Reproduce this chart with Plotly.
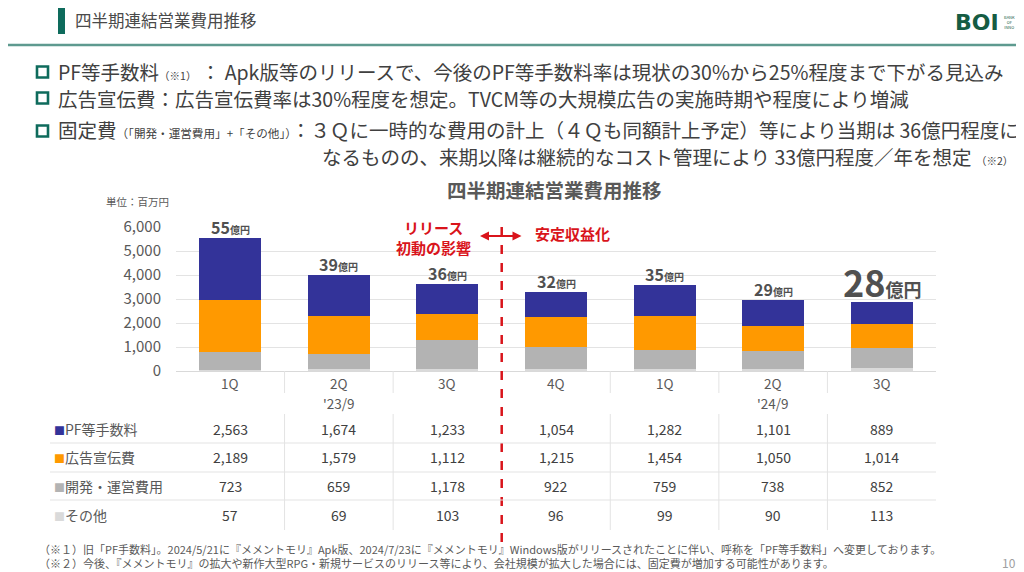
import plotly.graph_objects as go

# ---------------- data ----------------
quarters = ["1Q", "2Q", "3Q", "4Q", "1Q", "2Q", "3Q"]
fiscal_groups = [("'23/9", 1), ("'24/9", 5)]
series_names = ["PF等手数料", "広告宣伝費", "開発・運営費用", "その他"]
pf_fee = [2563, 1674, 1233, 1054, 1282, 1101, 889]
ad_cost = [2189, 1579, 1112, 1215, 1454, 1050, 1014]
dev_ops = [723, 659, 1178, 922, 759, 738, 852]
other = [57, 69, 103, 96, 99, 90, 113]
y_ticks = [0, 1000, 2000, 3000, 4000, 5000, 6000]

colors = {"PF等手数料": "#333399", "広告宣伝費": "#FF9900",
          "開発・運営費用": "#B3B3B3", "その他": "#DADADA"}
values = {"PF等手数料": pf_fee, "広告宣伝費": ad_cost,
          "開発・運営費用": dev_ops, "その他": other}

FONT = "Noto Sans CJK JP"
W, H = 1024, 572
OX, OY = 8, 8   # page body margin offset


def px(x):
    return (x - OX) / W


def py(y):
    return 1 - (y - OY) / H


xs = list(range(len(quarters)))
fig = go.Figure()
for name in ["その他", "開発・運営費用", "広告宣伝費", "PF等手数料"]:
    fig.add_trace(go.Bar(x=xs, y=values[name], name=name, marker_color=colors[name],
                         marker_line_width=0, width=0.57, showlegend=False))

totals = [a + b + c + d for a, b, c, d in zip(pf_fee, ad_cost, dev_ops, other)]

ann = []
shapes = []


def A(**kw):
    kw.setdefault("showarrow", False)
    kw.setdefault("yanchor", "middle")
    kw.setdefault("xanchor", "center")
    ann.append(kw)


# total labels above bars
for i, t in enumerate(totals):
    oku = int(t // 100)
    if i == len(totals) - 1:
        txt = f"<b><span style='font-size:36px'>{oku}</span><span style='font-size:18px'>億円</span></b>"
        ys = 21
    else:
        txt = f"<b><span style='font-size:16px'>{oku}</span><span style='font-size:10px'>億円</span></b>"
        ys = 11
    A(x=i, y=t, xref="x", yref="y", text=txt, yshift=ys,
      font=dict(family=FONT, color="#505050"))

# header
shapes.append(dict(type="rect", xref="paper", yref="paper", x0=px(58), x1=px(65),
                   y0=py(34), y1=py(8), fillcolor="#0E6B5C", line_width=0))
A(x=px(73), y=py(20), xref="paper", yref="paper", text="四半期連結営業費用推移",
  xanchor="left", font=dict(family=FONT, size=16.5, color="#4A4A4A"))
shapes.append(dict(type="line", xref="paper", yref="paper", x0=px(8), x1=px(1020),
                   y0=py(45), y1=py(45), line=dict(color="#5E9A8F", width=2.5)))
A(x=px(1001), y=py(22), xref="paper", yref="paper", text="<b>BOI</b>", xanchor="right",
  font=dict(family="DejaVu Sans", size=22, color="#155C43"))
A(x=px(1002), y=py(22), xref="paper", yref="paper", text="BANK<br>OF<br>INNO",
  xanchor="left", font=dict(family=FONT, size=4, color="#155C43"))

# bullets
bullet_y = [72, 98, 131]
for by in bullet_y:
    shapes.append(dict(type="rect", xref="paper", yref="paper", x0=px(37), x1=px(48),
                       y0=py(by + 5.5), y1=py(by - 5.5), line=dict(color="#0E6B5C", width=2.6),
                       fillcolor="rgba(0,0,0,0)"))
small = "<span style='font-size:10.5px'>"
small3 = "<span style='font-size:11.6px'>"
lines = [
    (71.5, 56, f"PF等手数料{small}（※1）</span> ： Apk版等のリリースで、今後のPF等手数料率は現状の30%から25%程度まで下がる見込み"),
    (98.5, 56, "広告宣伝費：広告宣伝費率は30%程度を想定。TVCM等の大規模広告の実施時期や程度により増減"),
    (129, 56, f"固定費{small3}（「開発・運営費用」+「その他」）</span>：３Ｑに一時的な費用の計上（４Ｑも同額計上予定）等により当期は 36億円程度に"),
    (156.5, 320, f"なるものの、来期以降は継続的なコスト管理により 33億円程度／年を想定 {small}（※2）</span>"),
]
for ly, lx, t in lines:
    A(x=px(lx), y=py(ly), xref="paper", yref="paper", text=t, xanchor="left",
      font=dict(family=FONT, size=19.5, color="#404040"))

# chart title & unit
A(x=px(554), y=py(189), xref="paper", yref="paper", text="<b>四半期連結営業費用推移</b>",
  font=dict(family=FONT, size=19.5, color="#595959"))
A(x=px(104), y=py(201), xref="paper", yref="paper", text="単位：百万円", xanchor="left",
  font=dict(family=FONT, size=10.5, color="#595959"))

# red divider and annotations
shapes.append(dict(type="line", xref="x", yref="paper", x0=2.5, x1=2.5, y0=py(542), y1=py(220),
                   line=dict(color="#D9141B", width=2.5, dash="dash")))
ann.append(dict(x=2.5 - 0.2, y=py(236), xref="x", yref="paper", ax=43, ay=0,
                axref="pixel", ayref="pixel", text="", showarrow=True, arrowhead=2,
                arrowside="end+start", arrowwidth=1.8, arrowsize=1, arrowcolor="#D9141B"))
A(x=px(433), y=py(237), xref="paper", yref="paper", text="<b>リリース<br>初動の影響</b>",
  font=dict(family=FONT, size=15, color="#D9141B"))
A(x=px(572), y=py(233), xref="paper", yref="paper", text="<b>安定収益化</b>",
  font=dict(family=FONT, size=15, color="#D9141B"))

# table
row_y = [429, 457, 486, 515]
for i, q in enumerate(quarters):
    A(x=i, y=py(383), xref="x", yref="paper", text=q,
      font=dict(family=FONT, size=13.5, color="#595959"))
for label, gi in fiscal_groups:
    A(x=gi, y=py(403), xref="x", yref="paper", text=label,
      font=dict(family=FONT, size=13.5, color="#595959"))
for r, name in enumerate(series_names):
    A(x=px(52), y=py(row_y[r]), xref="paper", yref="paper",
      text=f"<span style='color:{colors[name]};font-size:11px'>■</span>{name}",
      xanchor="left", font=dict(family=FONT, size=14, color="#595959"))
    for i, v in enumerate(values[name]):
        A(x=i, y=py(row_y[r]), xref="x", yref="paper", text=f"{v:,}",
          font=dict(family=FONT, size=14, color="#404040"))
for ly in [443, 472, 500]:
    shapes.append(dict(type="line", xref="paper", yref="paper", x0=px(50), x1=px(936),
                       y0=py(ly), y1=py(ly), line=dict(color="#E3E3E3", width=1)))
for b in [0.5, 1.5, 3.5, 4.5, 5.5]:
    shapes.append(dict(type="line", xref="x", yref="paper", x0=b, x1=b, y0=py(393), y1=py(371),
                       line=dict(color="#E3E3E3", width=1)))
    shapes.append(dict(type="line", xref="x", yref="paper", x0=b, x1=b, y0=py(530), y1=py(414),
                       line=dict(color="#E3E3E3", width=1)))

# footnotes
foot = [
    "（※１）旧「PF手数料」。2024/5/21に『メメントモリ』Apk版、2024/7/23に『メメントモリ』Windows版がリリースされたことに伴い、呼称を「PF等手数料」へ変更しております。",
    "（※２）今後、『メメントモリ』の拡大や新作大型RPG・新規サービスのリリース等により、会社規模が拡大した場合には、固定費が増加する可能性があります。",
]
A(x=px(37), y=py(555.5), xref="paper", yref="paper", text="<br>".join(foot), xanchor="left",
  align="left", font=dict(family=FONT, size=11, color="#595959"))
A(x=px(1018), y=py(562), xref="paper", yref="paper", text="10", xanchor="right",
  font=dict(family=FONT, size=12, color="#A0A0A0"))

fig.update_layout(
    template="none",
    width=W, height=H, margin=dict(l=0, r=0, t=0, b=0, pad=0, autoexpand=False),
    paper_bgcolor="white", plot_bgcolor="white", barmode="stack",
    xaxis=dict(domain=[px(176), px(936)], range=[-0.5, 6.5], showticklabels=False,
               showgrid=False, zeroline=False, showline=False, fixedrange=True,
               automargin=False, ticks=""),
    yaxis=dict(domain=[py(371), py(227)], range=[0, 6000], tickvals=y_ticks,
               tickformat=",", showgrid=True, gridcolor="#E3E3E3", gridwidth=1,
               zeroline=True, zerolinecolor="#D9D9D9", zerolinewidth=1,
               tickfont=dict(family=FONT, size=15, color="#595959"), ticks="",
               ticklabelstandoff=14, automargin=False, showline=False),
    annotations=ann, shapes=shapes,
)
fig.write_html("out.html")
